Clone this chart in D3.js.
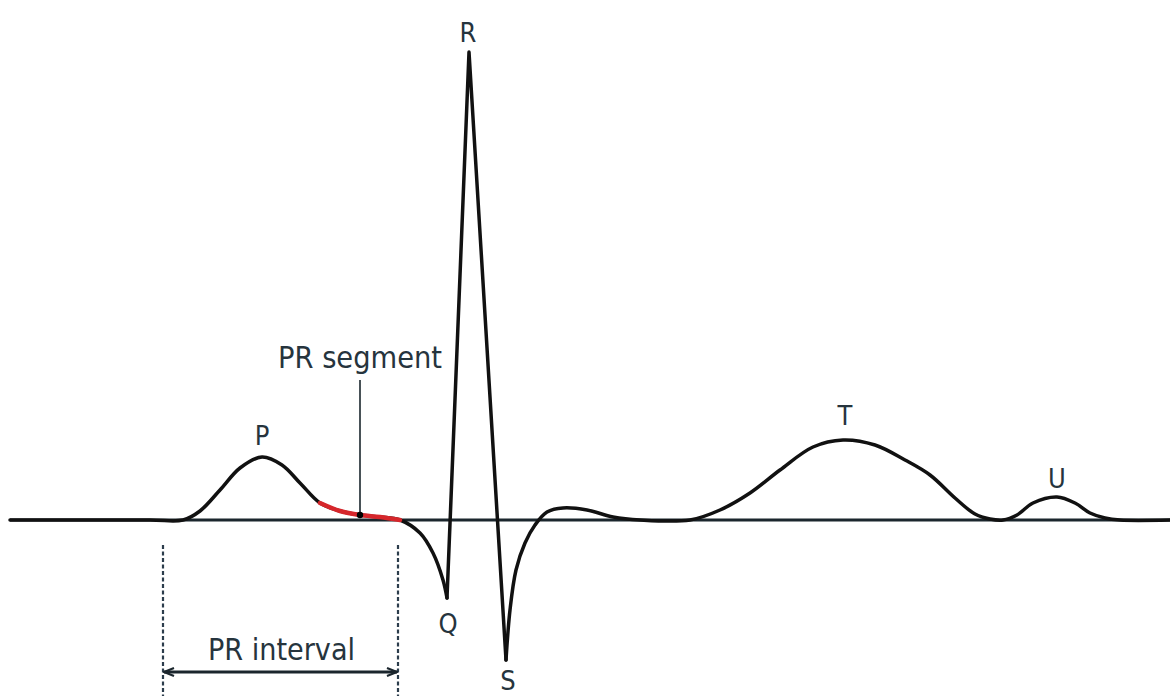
<!DOCTYPE html>
<html><head><meta charset="utf-8">
<script src="https://cdn.jsdelivr.net/npm/d3@7"></script>
<style>html,body{margin:0;padding:0;background:#fff;}svg{display:block;}</style>
</head><body>
<svg id="c" width="1170" height="696"></svg>
<script>
// ECG waveform samples (time units, amplitude units above baseline)
const ecgTime = [10,150,183,200,220,240,262,282,300,320,340,360,380,400,420,433,443,447,469,506,510,516,525,535,547,563,587,613,640,690,720,750,780,813,843,875,905,930,955,975,990,1003,1017,1033,1057,1075,1090,1105,1120,1170];
const ecgAmp  = [0,0,0,9,30,52,63,55,37,17,9,5,3,0,-13,-33,-60,-78,468,-140,-90,-50,-23,-5,8,12,10,3,0,0,10,27,50,73,80,75,60,45,22,6,1,0,5,17,23,17,7,2,0,0];
// sharp (straight) QRS spikes: Q tip -> R peak -> S tip
const qrsTimes = [447,469,506];
// PR segment highlighted range
const prSegment = [318, 400];
const prSegmentDot = 360;
// PR interval bounds
const prInterval = [163, 398];
// wave labels
const waveLabels = ["P","Q","R","S","T","U"];
const waveLabelTime = [262,448,468,508,845,1057];
const waveLabelAmp  = [75,-113,478,-170,95,32];

const svg = d3.select("#c");
const x = d3.scaleLinear().domain([0,1170]).range([0,1170]);
const y = d3.scaleLinear().domain([-176,520]).range([696,0]);

const pts = ecgTime.map((t,i)=>({t, v: ecgAmp[i]}));
const smooth = d3.line().x(d=>x(d.t)).y(d=>y(d.v)).curve(d3.curveCatmullRom.alpha(0.5));
const straight = d3.line().x(d=>x(d.t)).y(d=>y(d.v));

const textColor = "#26343d";
const font = "'Liberation Sans Narrow','DejaVu Sans Condensed','Arial Narrow',sans-serif";

// baseline
svg.append("line").attr("x1",x(10)).attr("x2",x(1170)).attr("y1",y(0)).attr("y2",y(0))
  .attr("stroke","#1b262d").attr("stroke-width",3);

// waveform: smooth before Q, straight QRS, smooth after S
const segA = pts.filter(d=>d.t<=qrsTimes[0]);
const segB = pts.filter(d=>d.t>=qrsTimes[0] && d.t<=qrsTimes[2]);
const segC = pts.filter(d=>d.t>=qrsTimes[2]);
const wave = svg.append("g").attr("fill","none").attr("stroke","#111").attr("stroke-width",3.5)
  .attr("stroke-linejoin","round").attr("stroke-linecap","round");
wave.append("path").datum(segA).attr("d",smooth);
wave.append("path").datum(segB).attr("d",straight);
wave.append("path").datum(segC).attr("d",smooth);

// PR segment in red
const redPts = pts.filter(d=>d.t>=prSegment[0] && d.t<=prSegment[1]);
svg.append("path").datum(redPts).attr("d",smooth).attr("fill","none")
  .attr("stroke","#d6262b").attr("stroke-width",4.5).attr("stroke-linecap","round");

// PR segment pointer
const dotAmp = ecgAmp[ecgTime.indexOf(prSegmentDot)];
svg.append("line").attr("x1",x(prSegmentDot)).attr("x2",x(prSegmentDot))
  .attr("y1",y(140)).attr("y2",y(dotAmp)).attr("stroke","#1b262d").attr("stroke-width",1.6);
svg.append("circle").attr("cx",x(prSegmentDot)).attr("cy",y(dotAmp)).attr("r",3.2).attr("fill","#000");
svg.append("text").attr("x",x(278)).attr("y",y(152)).text("PR segment")
  .attr("font-family",font).attr("font-size",30).attr("fill",textColor)
  .attr("textLength",164).attr("lengthAdjust","spacingAndGlyphs");

// PR interval dashed bounds
prInterval.forEach(t=>{
  svg.append("line").attr("x1",x(t)).attr("x2",x(t)).attr("y1",y(-25)).attr("y2",696)
    .attr("stroke","#2c3d4c").attr("stroke-width",2.2).attr("stroke-dasharray","4,2.5");
});
const defs = svg.append("defs");
["s","e"].forEach(k=>{
  defs.append("marker").attr("id","arr"+k).attr("viewBox","0 0 12 12").attr("refX",k==="e"?11:1).attr("refY",6)
    .attr("markerWidth",12).attr("markerHeight",12).attr("markerUnits","userSpaceOnUse").attr("orient","auto")
    .append("path").attr("d",k==="e"?"M1,2 L11,6 L1,10":"M11,2 L1,6 L11,10").attr("fill","none")
    .attr("stroke","#1b262d").attr("stroke-width",2.2);
});
svg.append("line").attr("x1",x(prInterval[0])+1).attr("x2",x(prInterval[1])-1).attr("y1",y(-152)).attr("y2",y(-152))
  .attr("stroke","#1b262d").attr("stroke-width",3)
  .attr("marker-start","url(#arrs)").attr("marker-end","url(#arre)");
svg.append("text").attr("x",x(208)).attr("y",y(-140)).text("PR interval")
  .attr("font-family",font).attr("font-size",30).attr("fill",textColor)
  .attr("textLength",147).attr("lengthAdjust","spacingAndGlyphs");

// wave letters
svg.selectAll("text.wl").data(waveLabels).enter().append("text").attr("class","wl")
  .attr("x",(d,i)=>x(waveLabelTime[i])).attr("y",(d,i)=>y(waveLabelAmp[i]))
  .attr("text-anchor","middle").attr("font-family",font).attr("font-size",27).attr("fill",textColor)
  .text(d=>d);
</script>
</body></html>
